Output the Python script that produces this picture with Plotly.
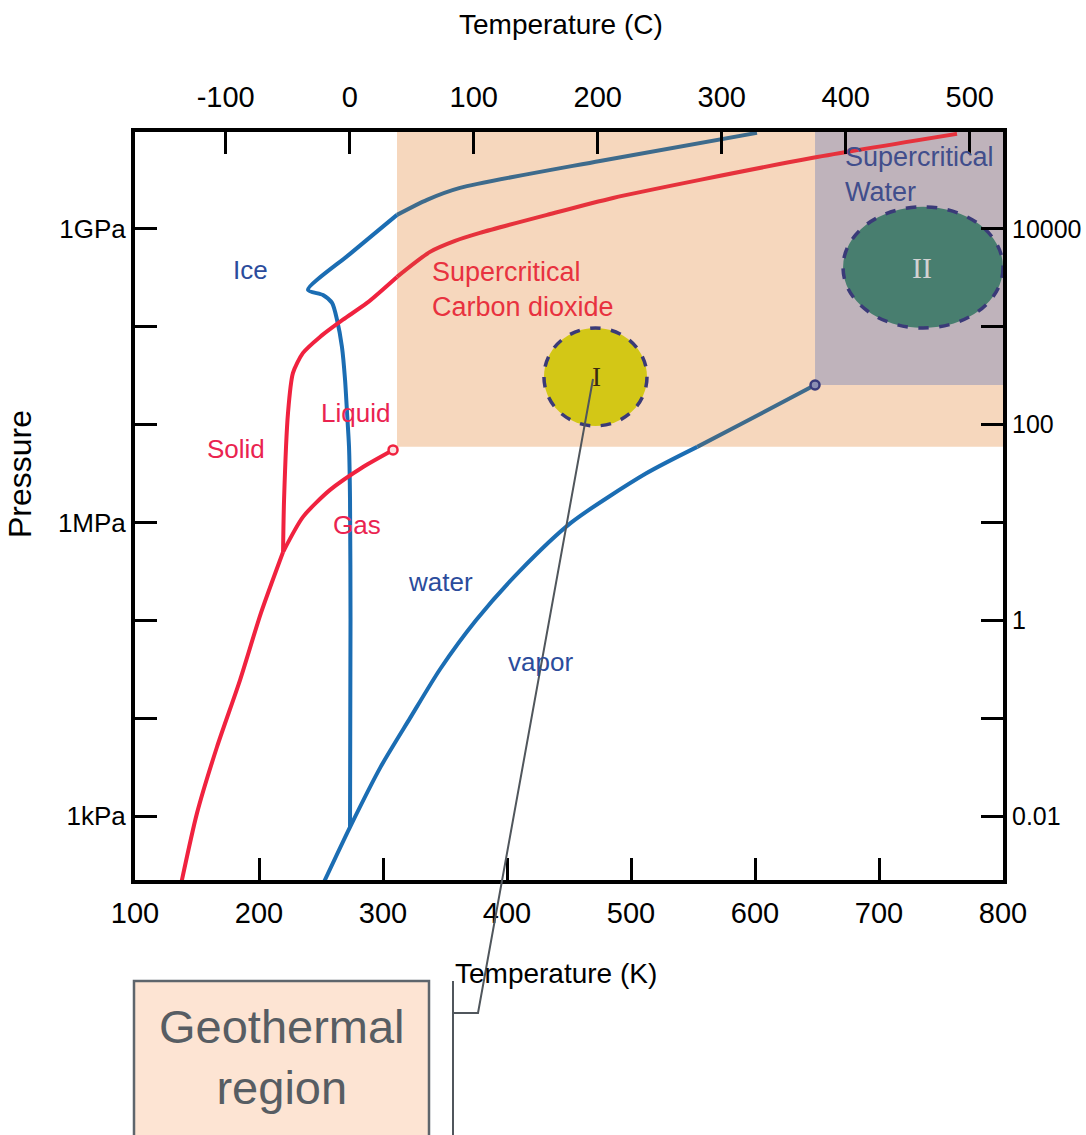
import math
import plotly.graph_objects as go

# ---------------- data (T in K, P in Pa) ----------------
water_vap_T = [251.5, 273.4, 298.0, 321.8, 346.0, 375.0, 410.0, 452.0, 512.0, 588.0, 648.4]
water_vap_P = [200, 771, 3.16e3, 1.0e4, 3.16e4, 1.0e5, 3.16e5, 1.0e6, 3.16e6, 1.0e7, 2.54e7]

water_melt_T = [273.4, 273.8, 273.4, 272.6, 271.0, 269.4, 266.9, 262.9, 258.9, 251.6,
                239.5, 273.4, 311.3, 335.5, 362.1, 475.0, 601.6]
water_melt_P = [771, 1.01e5, 1.70e6, 5.92e6, 1.32e7, 2.86e7, 6.22e7, 1.18e8, 1.75e8, 2.11e8,
                2.38e8, 5.55e8, 1.39e9, 1.98e9, 2.62e9, 4.95e9, 9.57e9]

co2_sub_T = [137.1, 150.0, 166.1, 184.7, 201.6, 219.4]
co2_sub_P = [200, 1.07e3, 5.07e3, 2.45e4, 1.19e5, 4.99e5]

co2_vap_T = [219.4, 235.5, 257.3, 283.9, 308.1]
co2_vap_P = [4.99e5, 1.14e6, 2.15e6, 3.69e6, 5.51e6]

co2_melt_T = [219.4, 220.2, 223.4, 227.4, 235.5, 249.2, 267.7, 287.1, 311.3, 337.9,
              358.1, 378.2, 432.3, 485.5, 555.6, 646.8, 762.9]
co2_melt_P = [4.99e5, 1.70e6, 1.32e7, 3.37e7, 5.40e7, 7.87e7, 1.18e8, 1.75e8, 3.23e8, 5.82e8,
              7.54e8, 9.10e8, 1.39e9, 2.07e9, 3.17e9, 5.32e9, 9.35e9]

water_crit = (648.4, 2.54e7)
co2_crit = (308.1, 5.51e6)

# regions (T range, P range)
geo_T = [311.3, 800]
geo_P = [5.92e6, 1e10]
scw_T = [648.4, 800]
scw_P = [2.54e7, 1e10]
zone1_T = [429.8, 512.9]
zone1_P = [9.7e6, 9.7e7]
zone2_T = [671.0, 800.0]
zone2_P = [9.7e7, 1.68e9]

x_ticks_K = [100, 200, 300, 400, 500, 600, 700, 800]
x_ticks_C = [-100, 0, 100, 200, 300, 400, 500]
y_ticks_Pa = [1e3, 1e4, 1e5, 1e6, 1e7, 1e8, 1e9]
y_ticktext = ["1kPa", "", "", "1MPa", "", "", "1GPa"]
y_ticks_bar = [0.01, 0.1, 1, 10, 100, 1000, 10000]
y_ticktext_bar = ["0.01", "", "1", "", "100", "", "10000"]

# ---------------- styling ----------------
W, H = 1086, 1135
PL, PR, PT, PB = 135, 1003, 132, 880
T_RANGE = [100, 800]
LOGP_RANGE = [2.346, 9.99]

BLUE = "#1b6db3"
BLUE_IN = "#3e6b8c"
RED = "#f0223f"
RED_IN = "#e6323c"
SANS = "Liberation Sans, Arial, sans-serif"
SERIF = "Liberation Serif, DejaVu Serif, serif"


def px_x(px):
    return (px - PL) / (PR - PL)


def px_y(py):
    return (PB - py) / (PB - PT)


def split_region(T, P, t0, p0):
    """Split a polyline into parts outside / inside the region T>=t0, P>=p0."""
    lp0 = math.log10(p0)
    pts = [(t, math.log10(p)) for t, p in zip(T, P)]

    def inside(pt):
        return pt[0] >= t0 and pt[1] >= lp0

    outs, ins = [], []
    cur_in = inside(pts[0])
    cur = [pts[0]]
    for a, b in zip(pts[:-1], pts[1:]):
        b_in = inside(b)
        if b_in != cur_in:
            lo, hi = 0.0, 1.0
            for _ in range(50):
                mid = (lo + hi) / 2
                m = (a[0] + (b[0] - a[0]) * mid, a[1] + (b[1] - a[1]) * mid)
                if inside(m) == cur_in:
                    lo = mid
                else:
                    hi = mid
            c = (a[0] + (b[0] - a[0]) * hi, a[1] + (b[1] - a[1]) * hi)
            cur.append(c)
            (ins if cur_in else outs).append(cur)
            cur = [c, b]
            cur_in = b_in
        else:
            cur.append(b)
    (ins if cur_in else outs).append(cur)

    def conv(segs):
        return [([p[0] for p in s], [10 ** p[1] for p in s]) for s in segs]

    return conv(outs), conv(ins)


fig = go.Figure()

for T, P, c_out, c_in in [
    (water_vap_T, water_vap_P, BLUE, BLUE_IN),
    (water_melt_T, water_melt_P, BLUE, BLUE_IN),
    (co2_sub_T, co2_sub_P, RED, RED_IN),
    (co2_vap_T, co2_vap_P, RED, RED_IN),
    (co2_melt_T, co2_melt_P, RED, RED_IN),
]:
    outs, ins = split_region(T, P, geo_T[0], geo_P[0])
    for (xs, ys), col in [(s, c_out) for s in outs] + [(s, c_in) for s in ins]:
        fig.add_trace(go.Scatter(x=xs, y=ys, mode="lines",
                                 line=dict(color=col, width=4, shape="spline", smoothing=0.7),
                                 hoverinfo="skip", showlegend=False))

fig.add_trace(go.Scatter(x=[co2_crit[0]], y=[co2_crit[1]], mode="markers",
                         marker=dict(size=9, color="#fbe3e3", line=dict(color=RED, width=2.5)),
                         hoverinfo="skip", showlegend=False))
fig.add_trace(go.Scatter(x=[water_crit[0]], y=[water_crit[1]], mode="markers",
                         marker=dict(size=9, color="#8c8fb3", line=dict(color="#3a3c7c", width=2.5)),
                         hoverinfo="skip", showlegend=False))

# dummy trace to activate secondary axes
fig.add_trace(go.Scatter(x=[None], y=[None], xaxis="x2", yaxis="y2", showlegend=False,
                         hoverinfo="skip"))

# ---------------- shapes ----------------
shapes = [
    dict(type="rect", xref="x", yref="y", x0=geo_T[0], x1=geo_T[1], y0=geo_P[0], y1=geo_P[1],
         fillcolor="#f6d7bd", line=dict(width=0), layer="below"),
    dict(type="rect", xref="x", yref="y", x0=scw_T[0], x1=scw_T[1], y0=scw_P[0], y1=scw_P[1],
         fillcolor="#bfb3bb", line=dict(width=0), layer="below"),
    dict(type="circle", xref="x", yref="y", x0=zone1_T[0], x1=zone1_T[1], y0=zone1_P[0],
         y1=zone1_P[1], fillcolor="#d3c716", line=dict(color="#3a3a78", width=3.5, dash="dash"),
         layer="below"),
    dict(type="circle", xref="x", yref="y", x0=zone2_T[0], x1=zone2_T[1], y0=zone2_P[0],
         y1=zone2_P[1], fillcolor="#487e6f", line=dict(color="#3a3a78", width=3.5, dash="dash"),
         layer="below"),
    # Geothermal box
    dict(type="rect", xref="paper", yref="paper", x0=px_x(134), x1=px_x(429), y0=px_y(1145),
         y1=px_y(981), fillcolor="#fde4d3", line=dict(color="#5e656c", width=2.5)),
    # connector
    dict(type="path", xref="paper", yref="paper",
         path=f"M {px_x(453)},{px_y(1145)} L {px_x(453)},{px_y(981)} "
              f"M {px_x(453)},{px_y(1013)} L {px_x(478)},{px_y(1013)} L {px_x(593)},{px_y(379)}",
         line=dict(color="#50565c", width=2)),
]


# ---------------- annotations ----------------
def ann(text, x, y, size, color, family=SANS, xanchor="center", align="center", **kw):
    return dict(text=text, x=px_x(x), y=px_y(y), xref="paper", yref="paper", showarrow=False,
                font=dict(size=size, color=color, family=family), xanchor=xanchor,
                yanchor="middle", align=align, **kw)


annotations = [
    ann("Ice", 250, 270, 26, "#2b4c9c"),
    ann("Liquid", 355, 413, 26, "#ea2350"),
    ann("Solid", 236, 449, 26, "#ea2350"),
    ann("Gas", 357, 525, 26, "#ea2350"),
    ann("water", 440, 582, 26, "#2b4c9c"),
    ann("vapor", 540, 662, 26, "#2b4c9c"),
    ann("Supercritical<br>Carbon dioxide", 430, 289, 27, "#e8323f",
        xanchor="left", align="left"),
    ann("Supercritical<br>Water", 843, 174, 27, "#414e8c",
        xanchor="left", align="left"),
    ann("I", 596, 377, 27, "#3a2a10", family=SERIF),
    ann("II", 922, 267, 30, "#d2d2d2", family=SERIF),
    ann("Temperature (C)", 561, 25, 28, "black"),
    ann("Temperature (K)", 556, 973, 28, "black"),
    ann("Pressure", 20, 474, 32, "black", textangle=-90),
    ann("Geothermal<br>region", 282, 1057, 47, "#575d63"),
]

axis_common = dict(showgrid=False, zeroline=False, showline=True, linewidth=4, linecolor="black",
                   ticks="inside", ticklen=22, tickwidth=3, tickcolor="black", automargin=False)

fig.update_layout(
    width=W, height=H,
    margin=dict(l=PL, r=W - PR, t=PT, b=H - PB),
    paper_bgcolor="white", plot_bgcolor="white",
    showlegend=False,
    xaxis=dict(range=T_RANGE, tickvals=x_ticks_K, ticktext=[str(v) for v in x_ticks_K],
               tickfont=dict(size=29, family=SANS, color="black"), ticklabelstandoff=4,
               **axis_common),
    xaxis2=dict(range=[T_RANGE[0] - 273.15, T_RANGE[1] - 273.15], overlaying="x", side="top",
                anchor="y", tickvals=x_ticks_C, ticktext=[str(v) for v in x_ticks_C],
                tickfont=dict(size=29, family=SANS, color="black"), ticklabelstandoff=9,
                **axis_common),
    yaxis=dict(type="log", range=LOGP_RANGE, tickvals=y_ticks_Pa, ticktext=y_ticktext,
               tickfont=dict(size=26, family=SANS, color="black"), ticklabelstandoff=0,
               **axis_common),
    yaxis2=dict(type="log", range=[LOGP_RANGE[0] - 5, LOGP_RANGE[1] - 5], overlaying="y",
                side="right", anchor="x", tickvals=y_ticks_bar, ticktext=y_ticktext_bar,
                tickfont=dict(size=25, family=SANS, color="black"), ticklabelstandoff=0,
                **axis_common),
    shapes=shapes,
    annotations=annotations,
)

fig.write_html("out.html")
